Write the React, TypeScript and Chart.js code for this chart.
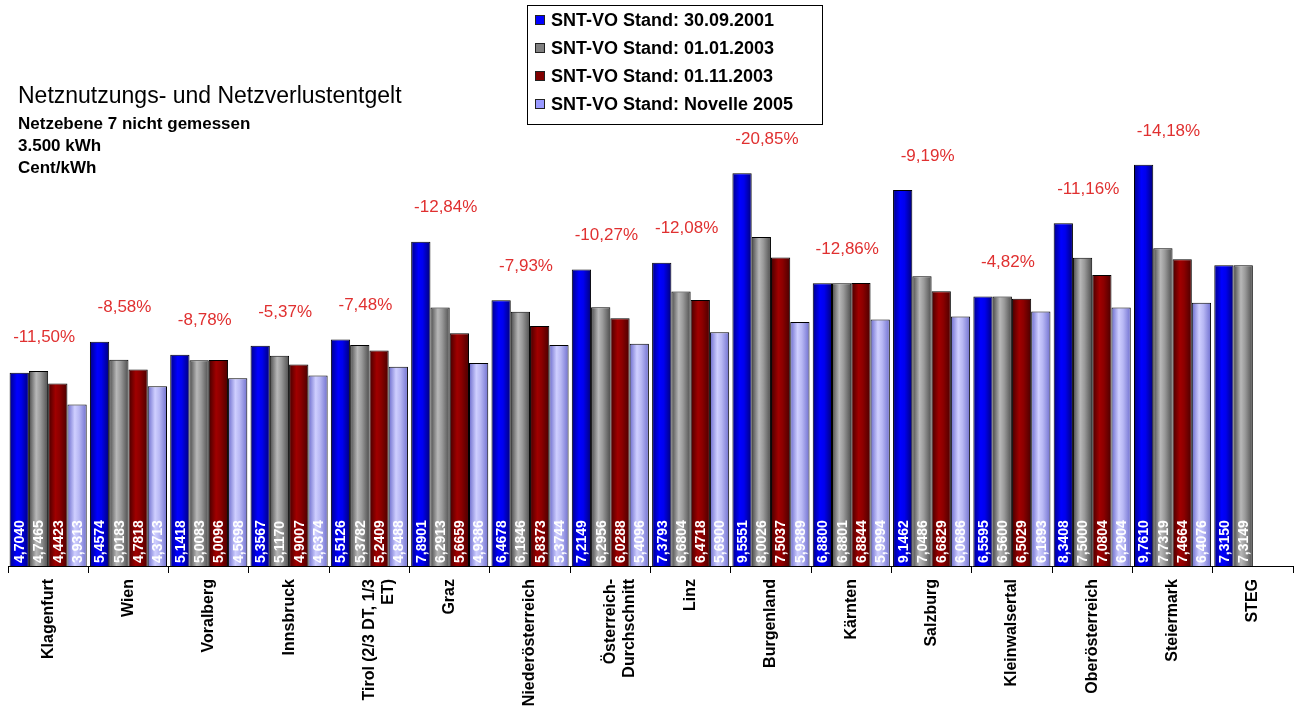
import React, { useEffect, useRef } from "react";
import { Chart, registerables } from "chart.js";

Chart.register(...registerables);

const categories: (string | string[])[] = [
  "Klagenfurt",
  "Wien",
  "Voralberg",
  "Innsbruck",
  ["Tirol (2/3 DT, 1/3", "ET)"],
  "Graz",
  "Niederösterreich",
  ["Österreich-", "Durchschnitt"],
  "Linz",
  "Burgenland",
  "Kärnten",
  "Salzburg",
  "Kleinwalsertal",
  "Oberösterreich",
  "Steiermark",
  "STEG",
];

const stand2001 = [4.704, 5.4574, 5.1418, 5.3567, 5.5126, 7.8901, 6.4678, 7.2149, 7.3793, 9.5551, 6.88, 9.1462, 6.5595, 8.3408, 9.761, 7.315];
const stand2003a = [4.7465, 5.0183, 5.0083, 5.117, 5.3782, 6.2913, 6.1846, 6.2956, 6.6804, 8.0026, 6.8801, 7.0486, 6.56, 7.5, 7.7319, 7.3149];
const stand2003b = [4.4423, 4.7818, 5.0096, 4.9007, 5.2409, 5.6659, 5.8373, 6.0288, 6.4718, 7.5037, 6.8844, 6.6829, 6.5029, 7.0804, 7.4664, null];
const novelle2005 = [3.9313, 4.3713, 4.5698, 4.6374, 4.8488, 4.9386, 5.3744, 5.4096, 5.69, 5.9389, 5.9994, 6.0686, 6.1893, 6.2904, 6.4076, null];

const changeLabels = ["-11,50%", "-8,58%", "-8,78%", "-5,37%", "-7,48%", "-12,84%", "-7,93%", "-10,27%", "-12,08%", "-20,85%", "-12,86%", "-9,19%", "-4,82%", "-11,16%", "-14,18%", ""];

const seriesNames = [
  "SNT-VO Stand: 30.09.2001",
  "SNT-VO Stand: 01.01.2003",
  "SNT-VO Stand: 01.11.2003",
  "SNT-VO Stand: Novelle 2005",
];

const FONT = "'Liberation Sans', Arial, sans-serif";
const CAT_PCT = 0.96;

const gradStops = [
  ["#000088", "#0000ff", "#0000ee", "#00007a"],
  ["#4a4a4a", "#b8b8b8", "#9a9a9a", "#4e4e4e"],
  ["#440000", "#a00000", "#8c0000", "#4a0000"],
  ["#6a6acc", "#cfcfff", "#b8b8f4", "#7070d0"],
];
const legendColors = ["#0000ff", "#808080", "#800000", "#9999ff"];

function makeBg(dsIndex: number) {
  return (ctx: any) => {
    const chart = ctx.chart;
    const stops = gradStops[dsIndex];
    const xs = chart.scales && chart.scales.x;
    if (ctx.type !== "data" || !xs || !chart.chartArea) return stops[1];
    const n = categories.length;
    const cw = xs.width / n;
    const gw = cw * CAT_PCT;
    const bw = gw / 4;
    const center = xs.getPixelForValue(ctx.dataIndex);
    const left = center - gw / 2 + dsIndex * bw;
    const g = chart.ctx.createLinearGradient(left, 0, left + bw, 0);
    g.addColorStop(0, stops[0]);
    g.addColorStop(0.38, stops[1]);
    g.addColorStop(0.6, stops[2]);
    g.addColorStop(1, stops[3]);
    return g;
  };
}

const decorPlugin = {
  id: "decor",
  beforeDraw(chart: any) {
    const c = chart.ctx;
    c.save();
    c.fillStyle = "#ffffff";
    c.fillRect(0, 0, chart.width, chart.height);
    c.restore();
  },
  afterDatasetsDraw(chart: any) {
    const c = chart.ctx;
    c.save();
    // values inside bars
    chart.data.datasets.forEach((ds: any, di: number) => {
      const meta = chart.getDatasetMeta(di);
      meta.data.forEach((el: any, i: number) => {
        const v = ds.data[i];
        if (v === null || v === undefined) return;
        c.save();
        c.translate(el.x, el.base - 3);
        c.rotate(-Math.PI / 2);
        c.fillStyle = "#ffffff";
        c.font = `bold 14px ${FONT}`;
        c.textAlign = "left";
        c.textBaseline = "middle";
        c.fillText(v.toFixed(4).replace(".", ","), 0, 1);
        c.restore();
      });
    });
    // change labels
    const xs = chart.scales.x;
    const ys = chart.scales.y;
    c.fillStyle = "#e03030";
    c.font = `17px ${FONT}`;
    c.textAlign = "center";
    c.textBaseline = "middle";
    changeLabels.forEach((lab, i) => {
      if (!lab) return;
      const vals = chart.data.datasets
        .map((d: any) => d.data[i])
        .filter((v: any) => v !== null && v !== undefined);
      const mx = Math.max(...vals);
      c.fillText(lab, xs.getPixelForValue(i) - 4, ys.getPixelForValue(mx) - 34);
    });
    c.restore();
  },
  afterDraw(chart: any) {
    const c = chart.ctx;
    c.save();
    // title block
    c.fillStyle = "#000000";
    c.textAlign = "left";
    c.textBaseline = "middle";
    c.font = `23px ${FONT}`;
    c.fillText("Netznutzungs- und Netzverlustentgelt", 18, 97);
    c.font = `bold 17px ${FONT}`;
    c.fillText("Netzebene 7 nicht gemessen", 18, 124);
    c.fillText("3.500 kWh", 18, 146);
    c.fillText("Cent/kWh", 18, 168);
    // legend
    c.fillStyle = "#ffffff";
    c.fillRect(527.5, 5.5, 295, 119);
    c.strokeStyle = "#000000";
    c.lineWidth = 1;
    c.strokeRect(527.5, 5.5, 295, 119);
    chart.data.datasets.forEach((ds: any, i: number) => {
      const cy = 20 + i * 28;
      c.fillStyle = legendColors[i];
      c.fillRect(535, cy - 5, 10, 10);
      c.strokeStyle = "#222";
      c.strokeRect(535.5, cy - 4.5, 9, 9);
      c.fillStyle = "#000000";
      c.font = `bold 18px ${FONT}`;
      c.fillText(ds.label, 551, cy + 1);
    });
    c.restore();
  },
};

export default function App() {
  const ref = useRef<HTMLCanvasElement | null>(null);
  useEffect(() => {
    if (!ref.current) return;
    const datasets = [stand2001, stand2003a, stand2003b, novelle2005].map((d, i) => ({
      label: seriesNames[i],
      data: d,
      backgroundColor: makeBg(i),
      borderColor: "#000000",
      borderWidth: 1,
      barPercentage: 1,
      categoryPercentage: CAT_PCT,
    }));
    const chart = new Chart(ref.current, {
      type: "bar",
      data: { labels: categories as any, datasets: datasets as any },
      options: {
        animation: false,
        responsive: true,
        maintainAspectRatio: false,
        layout: { padding: { top: 155, left: 8, right: 7, bottom: 0 } },
        plugins: {
          legend: { display: false },
          tooltip: { enabled: false },
          title: { display: false },
        },
        scales: {
          x: {
            afterFit: (scale: any) => {
              scale.height = 156;
            },
            grid: {
              display: true,
              offset: true,
              drawOnChartArea: false,
              drawTicks: true,
              tickLength: 7,
              color: "#000000",
              lineWidth: 1,
            },
            border: { display: true, color: "#000000", width: 1 },
            ticks: {
              autoSkip: false,
              maxRotation: 90,
              minRotation: 90,
              padding: 6,
              color: "#000000",
              font: { family: FONT, size: 16, weight: "bold" },
            },
          },
          y: {
            display: false,
            min: 0,
            max: 10,
          },
        },
      },
      plugins: [decorPlugin],
    });
    return () => chart.destroy();
  }, []);
  return (
    <div style={{ position: "fixed", left: 0, top: 0, width: 1300, height: 722 }}>
      <canvas ref={ref} />
    </div>
  );
}
